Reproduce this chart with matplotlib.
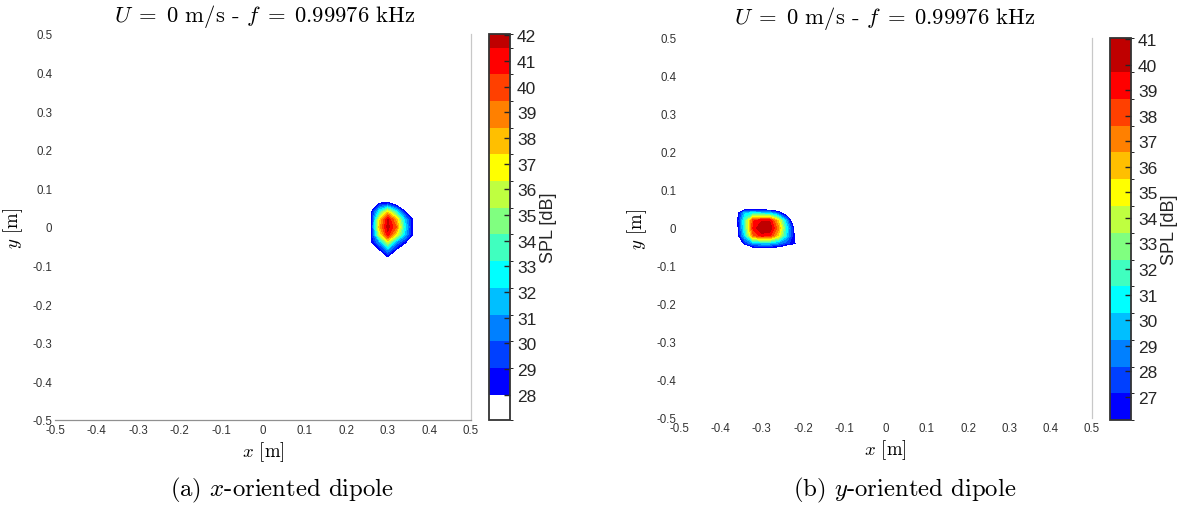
import numpy as np
import matplotlib
matplotlib.use('Agg')
import matplotlib.pyplot as plt
from matplotlib.colors import ListedColormap, BoundaryNorm
import matplotlib.cm as cm

plt.rcParams['mathtext.fontset'] = 'cm'
plt.rcParams['font.family'] = ['Liberation Sans', 'DejaVu Sans']
plt.rcParams['axes.unicode_minus'] = False

# axis ticks (both panels)
tick_vals = [-0.5, -0.4, -0.3, -0.2, -0.1, 0.0, 0.1, 0.2, 0.3, 0.4, 0.5]
tick_labels = ['-0.5', '-0.4', '-0.3', '-0.2', '-0.1', '0', '0.1', '0.2', '0.3', '0.4', '0.5']

# jet-like contour colours (low -> high)
jet_colors = ['#0000ff', '#0040ff', '#0080ff', '#00bfff', '#00ffff', '#40ffbf', '#80ff80',
              '#bfff40', '#ffff00', '#ffbf00', '#ff8000', '#ff4000', '#ff0000', '#bf0000']

# (a) x-oriented dipole: SPL map around the source (dB)
x_a = [0.24, 0.26, 0.28, 0.30, 0.32, 0.34, 0.36, 0.38]
y_a = [-0.10, -0.08, -0.06, -0.04, -0.02, 0.00, 0.02, 0.04, 0.06, 0.08]
spl_a = [
    [20, 20, 20, 20, 20, 20, 20, 20],
    [20, 24, 26, 27.5, 24, 22, 20, 20],
    [20, 26, 27.8, 31, 27.8, 26, 24, 20],
    [20, 27.8, 31, 36, 31, 28.4, 26, 20],
    [20, 27.9, 36, 41.2, 37, 32, 27.8, 20],
    [20, 27.9, 38, 42.0, 39.5, 33, 27.8, 20],
    [20, 27.9, 37, 41.6, 38, 32, 27.8, 20],
    [20, 27.8, 33, 37, 33, 28.3, 25, 20],
    [20, 26, 28.4, 29, 27, 25, 22, 20],
    [20, 22, 24, 24, 22, 21, 20, 20],
]
levels_a = [28.0, 29.04, 30.08, 31.12, 32.16, 33.2, 34.24, 35.28, 36.32, 37.36,
            38.4, 39.44, 40.48, 41.52, 42.05]
cbar_min_a = 27.01
cbar_ticks_a = [28, 29, 30, 31, 32, 33, 34, 35, 36, 37, 38, 39, 40, 41, 42]

# (b) y-oriented dipole
x_b = [-0.38, -0.36, -0.34, -0.32, -0.30, -0.28, -0.26, -0.24, -0.22, -0.20]
y_b = [-0.08, -0.06, -0.04, -0.02, 0.00, 0.02, 0.04, 0.06]
spl_b = [
    [18, 18, 18, 18, 18, 18, 18, 18, 18, 18],
    [18, 20, 21, 23, 23, 23, 23, 22, 20, 18],
    [18, 23, 27, 29.5, 30, 30, 29, 27.5, 26.5, 18],
    [18, 25, 30.5, 37.5, 39.2, 39, 35.5, 30.5, 25.8, 18],
    [18, 25, 32, 39, 40.8, 40.6, 37, 31, 25.5, 18],
    [18, 25.5, 32, 38.5, 39.5, 39.5, 35.5, 29.5, 23, 18],
    [18, 25, 30, 30.5, 30, 29.5, 27.5, 24, 20, 18],
    [18, 20, 20, 20, 20, 20, 20, 19, 18, 18],
]
levels_b = [26.09, 27.14, 28.18, 29.23, 30.28, 31.33, 32.37, 33.42, 34.47, 35.51,
            36.56, 37.61, 38.65, 39.70, 41.04]
cbar_ticks_b = [27, 28, 29, 30, 31, 32, 33, 34, 35, 36, 37, 38, 39, 40, 41]

title = r"$U\;=\;0$ m/s - $f\;=\;0.99976$ kHz"
captions = [r"(a) $x$-oriented dipole", r"(b) $y$-oriented dipole"]

W, H = 1188, 506
fig = plt.figure(figsize=(W / 100, H / 100), dpi=100)


def px(x0, y0, x1, y1):
    # pixel box -> figure fraction rect
    return [x0 / W, 1 - y1 / H, (x1 - x0) / W, (y1 - y0) / H]


def draw_panel(ax_rect, cax_rect, x, y, spl, levels, bounds, colors, ticks, bottom_spine):
    ax = fig.add_axes(ax_rect)
    ax.contourf(x, y, np.array(spl), levels=levels, colors=jet_colors)
    ax.set_xlim(-0.5, 0.5)
    ax.set_ylim(-0.5, 0.5)
    ax.set_xticks(tick_vals)
    ax.set_xticklabels(tick_labels)
    ax.set_yticks(tick_vals)
    ax.set_yticklabels(tick_labels)
    ax.tick_params(length=0, labelsize=8.3, colors='#333333')
    ax.tick_params(axis='x', pad=3)
    ax.tick_params(axis='y', pad=2)
    ax.spines['top'].set_visible(False)
    ax.spines['left'].set_visible(False)
    ax.spines['right'].set_color('#c8c8c8')
    ax.spines['right'].set_linewidth(0.9)
    if bottom_spine:
        ax.spines['bottom'].set_color('#909090')
        ax.spines['bottom'].set_linewidth(0.9)
    else:
        ax.spines['bottom'].set_visible(False)
    ax.set_xlabel(r"$x$ [m]", family='cmr10', fontsize=13.5, labelpad=2)
    ax.set_ylabel(r"$y$ [m]", family='cmr10', fontsize=13.5, labelpad=5)

    cax = fig.add_axes(cax_rect)
    norm = BoundaryNorm(bounds, len(colors))
    sm = cm.ScalarMappable(norm=norm, cmap=ListedColormap(colors))
    cb = fig.colorbar(sm, cax=cax, spacing='proportional', ticks=ticks)
    cb.outline.set_edgecolor('#333333')
    cb.outline.set_linewidth(1.3)
    cax.tick_params(direction='in', length=4, width=1, colors='#262626',
                    labelsize=12.5, pad=5)
    cb.set_label('SPL [dB]', fontsize=13, color='#262626', labelpad=3)
    return ax


ax_a = draw_panel(px(55, 35, 471, 421), px(489, 35, 510, 421), x_a, y_a, spl_a,
                  levels_a, [cbar_min_a] + levels_a, ['white'] + jet_colors,
                  cbar_ticks_a, True)
ax_b = draw_panel(px(679, 39, 1092, 419), px(1110, 39, 1131, 421), x_b, y_b, spl_b,
                  levels_b, levels_b, jet_colors, cbar_ticks_b, False)

fig.text(265 / W, 1 - 16 / H, title, family='cmr10', fontsize=16.3, ha='center', va='center')
fig.text(885 / W, 1 - 19 / H, title, family='cmr10', fontsize=16.3, ha='center', va='center')
fig.text(282 / W, 1 - 490 / H, captions[0], family='cmr10', fontsize=17.8, ha='center', va='center')
fig.text(905 / W, 1 - 490 / H, captions[1], family='cmr10', fontsize=17.8, ha='center', va='center')

fig.savefig('out.png', dpi=100)
